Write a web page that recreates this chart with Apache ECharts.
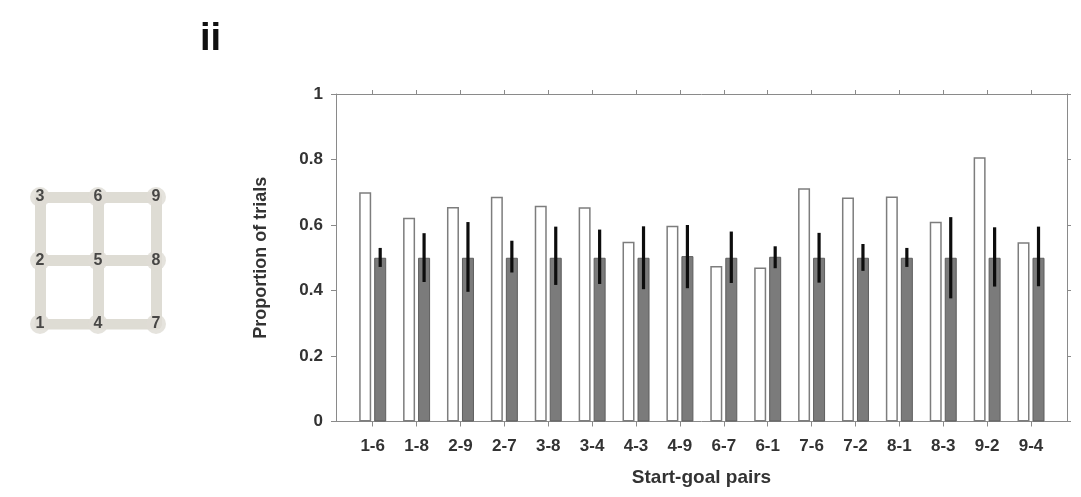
<!DOCTYPE html>
<html>
<head>
<meta charset="utf-8">
<script src="https://cdn.jsdelivr.net/npm/echarts@6/dist/echarts.min.js"></script>
<style>
html,body{margin:0;padding:0;background:#fff;}
#chart{width:1081px;height:497px;}
</style>
</head>
<body>
<div id="chart"></div>
<script>
const categories = ['1-6','1-8','2-9','2-7','3-8','3-4','4-3','4-9','6-7','6-1','7-6','7-2','8-1','8-3','9-2','9-4'];
const observed = [0.700,0.622,0.655,0.686,0.659,0.654,0.549,0.598,0.475,0.470,0.712,0.684,0.687,0.610,0.807,0.547];
const nullMean = [0.500,0.500,0.500,0.500,0.500,0.500,0.500,0.505,0.500,0.503,0.500,0.500,0.500,0.500,0.500,0.500];
const errLow  = [0.472,0.426,0.396,0.455,0.417,0.420,0.404,0.407,0.423,0.468,0.424,0.460,0.472,0.376,0.412,0.413];
const errHigh = [0.530,0.575,0.609,0.552,0.595,0.586,0.596,0.600,0.580,0.535,0.576,0.542,0.530,0.624,0.593,0.595];
const yTicks = [0, 0.2, 0.4, 0.6, 0.8, 1];
const panelLabel = 'ii';
const yTitle = 'Proportion of trials';
const xTitle = 'Start-goal pairs';
// maze diagram: node numbers and their (column,row) positions on a 3x3 lattice
const nodeNames = ['1','2','3','4','5','6','7','8','9'];
const nodeCols = [0,0,0,1,1,1,2,2,2];
const nodeRows = [0,1,2,0,1,2,0,1,2];
const edges = [[1,3],[4,6],[7,9],[1,7],[2,8],[3,9]]; // straight corridors (node index pairs, 1-based)

const positions = categories.map((c, i) => i + 1);
const FONT = '"Liberation Sans", Arial, sans-serif';
const AXIS_COLOR = '#8a8a8a';

const chart = echarts.init(document.getElementById('chart'), null, {renderer: 'canvas'});

const edgeData = edges.map(e => ({
  coords: [[nodeCols[e[0]-1], nodeRows[e[0]-1]], [nodeCols[e[1]-1], nodeRows[e[1]-1]]]
}));
const nodeData = nodeNames.map((n, i) => ({value: [nodeCols[i], nodeRows[i]], name: n}));

const option = {
  animation: false,
  backgroundColor: '#fff',
  title: {
    text: panelLabel,
    left: 195, top: 16,
    textStyle: {fontFamily: FONT, fontWeight: 'bold', fontSize: 38, color: '#111'}
  },
  grid: [
    {left: 336, right: 14, top: 94, bottom: 75.5, containLabel: false},
    {left: 40, width: 116, top: 197, height: 127}
  ],
  xAxis: [
    {
      type: 'value', gridIndex: 0, position: 'bottom',
      min: 0.164, max: 16.82,
      name: xTitle, nameLocation: 'middle', nameGap: 47,
      nameTextStyle: {fontFamily: FONT, fontWeight: 'bold', fontSize: 19, color: '#333'},
      splitLine: {show: false},
      axisLine: {show: true, onZero: false, lineStyle: {color: AXIS_COLOR, width: 1}},
      axisTick: {show: true, inside: false, length: 5, customValues: positions, lineStyle: {color: AXIS_COLOR}},
      axisLabel: {
        show: true, customValues: positions, margin: 16,
        fontFamily: FONT, fontWeight: 'bold', fontSize: 17, color: '#333',
        formatter: v => categories[Math.round(v) - 1] || ''
      }
    },
    {
      type: 'value', gridIndex: 0, position: 'top',
      min: 0.164, max: 16.82,
      splitLine: {show: false},
      axisLine: {show: true, onZero: false, lineStyle: {color: AXIS_COLOR, width: 1}},
      axisTick: {show: true, inside: false, length: 4, customValues: positions, lineStyle: {color: AXIS_COLOR}},
      axisLabel: {show: false}
    },
    {type: 'value', gridIndex: 1, min: 0, max: 2, show: false}
  ],
  yAxis: [
    {
      type: 'value', gridIndex: 0, position: 'left',
      min: 0, max: 1, interval: 0.2,
      name: yTitle, nameLocation: 'middle', nameGap: 66, nameRotate: 90,
      nameTextStyle: {fontFamily: FONT, fontWeight: 'bold', fontSize: 18, color: '#333'},
      splitLine: {show: false},
      axisLine: {show: true, lineStyle: {color: AXIS_COLOR, width: 1}},
      axisTick: {show: true, inside: false, length: 5, lineStyle: {color: AXIS_COLOR}},
      axisLabel: {
        margin: 13, fontFamily: FONT, fontWeight: 'bold', fontSize: 17, color: '#333',
        formatter: v => String(Math.round(v * 10) / 10)
      }
    },
    {
      type: 'value', gridIndex: 0, position: 'right',
      min: 0, max: 1, interval: 0.2,
      splitLine: {show: false},
      axisLine: {show: true, lineStyle: {color: AXIS_COLOR, width: 1}},
      axisTick: {show: true, inside: false, length: 4, lineStyle: {color: AXIS_COLOR}},
      axisLabel: {show: false}
    },
    {type: 'value', gridIndex: 1, min: 0, max: 2, show: false}
  ],
  series: [
    {
      type: 'bar', name: 'Observed', xAxisIndex: 0, yAxisIndex: 0,
      data: observed.map((v, i) => [positions[i], v]),
      barWidth: 12, barGap: '25%',
      itemStyle: {color: '#ffffff', borderColor: '#7d7d7d', borderWidth: 1.5},
      z: 2
    },
    {
      type: 'bar', name: 'Null', xAxisIndex: 0, yAxisIndex: 0,
      data: nullMean.map((v, i) => [positions[i], v]),
      barWidth: 12, barGap: '25%',
      itemStyle: {color: '#7b7b7b', borderColor: '#5e5e5e', borderWidth: 1},
      z: 2
    },
    {
      type: 'custom', name: 'Error', xAxisIndex: 0, yAxisIndex: 0,
      data: positions.map((p, i) => [p, errLow[i], errHigh[i]]),
      encode: {x: 0, y: [1, 2]},
      renderItem: function (params, api) {
        const lo = api.coord([api.value(0), api.value(1)]);
        const hi = api.coord([api.value(0), api.value(2)]);
        const dx = 7.5;
        return {
          type: 'line',
          shape: {x1: lo[0] + dx, y1: lo[1], x2: hi[0] + dx, y2: hi[1]},
          style: {stroke: '#0d0d0d', lineWidth: 3.2}
        };
      },
      z: 5
    },
    {
      type: 'lines', coordinateSystem: 'cartesian2d', xAxisIndex: 2, yAxisIndex: 2,
      data: edgeData,
      lineStyle: {color: '#dedcd4', width: 11, opacity: 1, cap: 'round'},
      silent: true, z: 1
    },
    {
      type: 'scatter', xAxisIndex: 2, yAxisIndex: 2,
      data: nodeData,
      symbolSize: 20,
      itemStyle: {color: '#dedcd4'},
      label: {
        show: true, position: 'inside', formatter: p => p.name,
        fontFamily: FONT, fontWeight: 'bold', fontSize: 16, color: '#222'
      },
      silent: true, z: 3
    }
  ]
};
chart.setOption(option);
</script>
</body>
</html>
